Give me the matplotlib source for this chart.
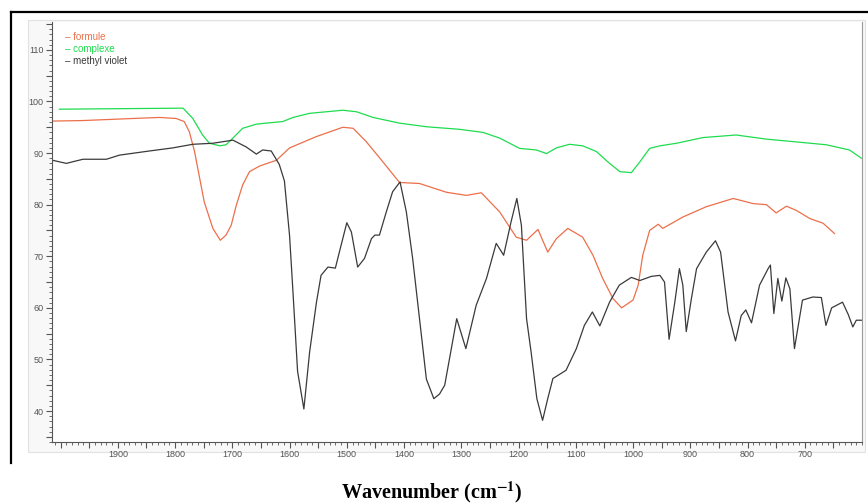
import matplotlib
matplotlib.use('Agg')
import matplotlib.pyplot as plt
from matplotlib.ticker import MultipleLocator
from matplotlib.patches import Rectangle
from matplotlib.lines import Line2D

plt.rcParams['font.family'] = ['Liberation Sans', 'DejaVu Sans']
plt.rcParams['mathtext.fontset'] = 'stix'

# formule (orange)
formule_x = [2014, 1961, 1874, 1827, 1798, 1784, 1775, 1766, 1757, 1749, 1734, 1721,
             1711, 1702, 1693, 1682, 1670, 1652, 1623, 1600, 1553, 1507, 1489, 1466,
             1437, 1408, 1373, 1326, 1291, 1265, 1233, 1204, 1186, 1166, 1149, 1134,
             1114, 1088, 1070, 1053, 1035, 1020, 1000, 991, 983, 971, 956, 948, 913,
             872, 825, 790, 767, 750, 732, 715, 691, 668, 648]
formule_y = [96.2, 96.3, 96.7, 96.9, 96.7, 96.1, 94.1, 90.3, 85.1, 80.5, 75.4, 73.1,
             74.1, 76.0, 79.9, 83.8, 86.4, 87.5, 88.6, 91.0, 93.2, 95.0, 94.8, 92.2,
             88.3, 84.3, 84.1, 82.4, 81.8, 82.3, 78.6, 73.7, 73.1, 75.2, 70.8, 73.4,
             75.4, 73.7, 70.2, 65.7, 61.8, 60.0, 61.5, 64.4, 70.2, 75.0, 76.2, 75.4, 77.6,
             79.6, 81.2, 80.2, 80.0, 78.4, 79.7, 78.9, 77.3, 76.4, 74.4]

# complexe (green)
complexe_x = [2002, 1900, 1786, 1769, 1752, 1740, 1722, 1711, 1699, 1682, 1658, 1641,
              1612, 1594, 1565, 1507, 1483, 1454, 1408, 1361, 1303, 1262, 1233, 1198,
              1169, 1151, 1134, 1111, 1088, 1064, 1041, 1023, 1003, 988, 971, 953, 924,
              878, 820, 767, 709, 662, 622, 601]
complexe_y = [98.5, 98.6, 98.7, 96.7, 93.5, 91.9, 91.4, 91.6, 92.9, 94.8, 95.6, 95.8,
              96.1, 96.9, 97.7, 98.3, 98.0, 96.9, 95.8, 95.1, 94.6, 94.0, 92.9, 90.9,
              90.6, 89.9, 91.0, 91.7, 91.4, 90.3, 88.0, 86.4, 86.2, 88.3, 90.9, 91.4, 91.9,
              93.0, 93.5, 92.7, 92.1, 91.6, 90.6, 89.0]

# methyl violet (black)
mv_x = [2014, 1990, 1961, 1920, 1897, 1845, 1804, 1769, 1734, 1699, 1676, 1658, 1647,
        1632, 1618, 1609, 1600, 1594, 1586, 1575, 1565, 1553, 1545, 1533, 1520, 1513,
        1500, 1492, 1481, 1469, 1457, 1451, 1443, 1431, 1420, 1407, 1396, 1385, 1373,
        1361, 1348, 1338, 1329, 1320, 1308, 1292, 1274, 1256, 1239, 1226, 1213, 1203,
        1195, 1186, 1178, 1168, 1158, 1149, 1140, 1117, 1099, 1085, 1071, 1058, 1041,
        1024, 1003, 988, 968, 953, 945, 937, 927, 919, 913, 907, 898, 889, 872, 856,
        847, 834, 821, 811, 803, 793, 779, 764, 760, 754, 747, 740, 733, 726, 718, 704,
        686, 671, 663, 653, 634, 624, 616, 610, 601]
mv_y = [88.6, 88.0, 88.8, 88.8, 89.6, 90.4, 91.0, 91.7, 91.9, 92.5, 91.2, 89.8, 90.6,
        90.4, 87.8, 84.6, 74.0, 63.0, 47.7, 40.4, 51.4, 61.1, 66.3, 67.9, 67.7, 70.8,
        76.5, 74.7, 67.9, 69.6, 73.4, 74.1, 74.1, 78.6, 82.5, 84.4, 78.6, 69.6, 57.9,
        46.2, 42.4, 43.3, 45.0, 50.5, 57.9, 52.1, 60.5, 65.7, 72.5, 70.2, 76.7, 81.2,
        76.0, 57.9, 51.4, 42.4, 38.2, 42.4, 46.3, 47.9, 52.1, 56.6, 59.2, 56.5, 61.1,
        64.4, 65.9, 65.3, 66.1, 66.3, 65.0, 53.9, 61.1, 67.6, 64.4, 55.4, 61.8, 67.6,
        70.8, 73.0, 70.8, 59.2, 53.6, 58.5, 59.6, 57.1, 64.4, 67.6, 68.3, 58.9, 65.7,
        61.3, 65.8, 63.7, 52.1, 61.5, 62.1, 62.0, 56.6, 60.0, 61.1, 58.7, 56.3, 57.6,
        57.6]

names = ['formule', 'complexe', 'methyl violet']
colors = ['#ec6f4a', '#1fdc4f', '#3a3a3a']
x_labels = list(range(700, 2000, 100))
y_labels = list(range(40, 111, 10))

fig = plt.figure(figsize=(8.68, 5.04), dpi=100)

# light panel behind the plot and outer frame
fig.patches.append(Rectangle((28 / 868, 1 - 452 / 504), 837 / 868, 432 / 504,
                             transform=fig.transFigure, facecolor='#f8f8f8',
                             edgecolor='#e2e2e2', lw=0.8, zorder=-5))
fig.lines.append(Line2D([10.5 / 868, 1], [1 - 11.5 / 504, 1 - 11.5 / 504],
                        transform=fig.transFigure, color='black', lw=1.6))
fig.lines.append(Line2D([10.5 / 868, 10.5 / 868], [1 - 11.5 / 504, 1 - 463 / 504],
                        transform=fig.transFigure, color='black', lw=1.6))

ax = fig.add_axes([52 / 868, 1 - 442 / 504, 810 / 868, 420 / 504])
ax.set_zorder(2)
ax.set_facecolor('white')

ax.plot(formule_x, formule_y, color=colors[0], lw=0.9)
ax.plot(complexe_x, complexe_y, color=colors[1], lw=0.9)
ax.plot(mv_x, mv_y, color=colors[2], lw=0.9)

ax.set_xlim(2015, 600)
ax.set_ylim(34, 115.4)

# major ticks every 50 / 5, labels only on the listed values
xt = list(range(650, 2001, 50))
ax.set_xticks(xt)
ax.set_xticklabels([str(v) if v in x_labels else '' for v in xt])
yt = list(range(35, 116, 5))
ax.set_yticks(yt)
ax.set_yticklabels([str(v) if v in y_labels else '' for v in yt])
ax.xaxis.set_minor_locator(MultipleLocator(10))
ax.yaxis.set_minor_locator(MultipleLocator(1))

ax.tick_params(axis='both', which='major', direction='out', length=4, width=0.8,
               color='#555555', labelsize=6.5, labelcolor='#555555', pad=2)
ax.tick_params(axis='both', which='minor', direction='out', length=2, width=0.6,
               color='#555555')

ax.spines['top'].set_visible(False)
ax.spines['right'].set_color('#999999')
ax.spines['left'].set_color('#555555')
ax.spines['bottom'].set_color('#555555')

# legend as coloured text
for i, (n, c) in enumerate(zip(names, colors)):
    ax.text(65 / 868, 1 - (36.5 + i * 12) / 504, '\u2013 ' + n, color=c,
            fontsize=7, va='center', ha='left', transform=fig.transFigure)

fig.text(0.497, 0.024, r'Wavenumber (cm$^{\mathbf{-1}}$)', ha='center', va='center',
         fontsize=14.5, fontweight='bold', family='Liberation Serif')

fig.savefig('out.png', dpi=100)
